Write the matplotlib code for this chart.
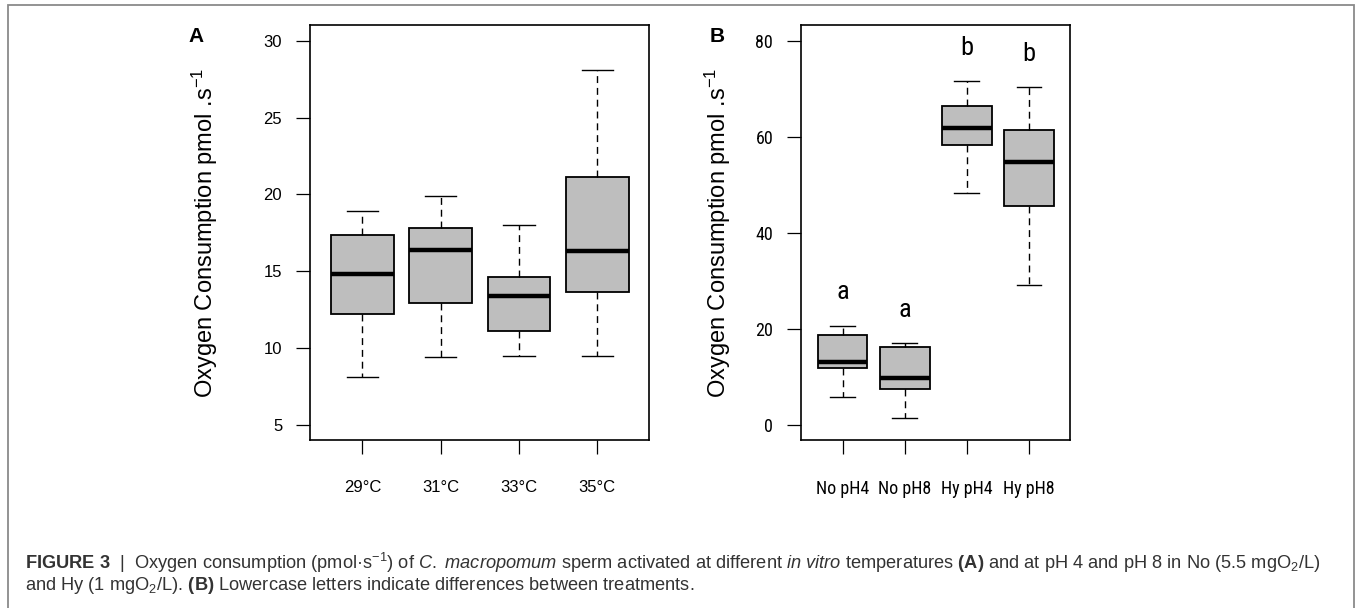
import matplotlib
matplotlib.use("Agg")
import matplotlib.pyplot as plt
from matplotlib.patches import Rectangle

plt.rcParams['font.family'] = ['Liberation Sans', 'DejaVu Sans']
plt.rcParams['mathtext.fontset'] = 'custom'
plt.rcParams['mathtext.rm'] = 'Liberation Sans'
plt.rcParams['mathtext.it'] = 'Liberation Sans:italic'
plt.rcParams['mathtext.bf'] = 'Liberation Sans:bold'

# panel A - temperatures
temp_labels = ['29°C', '31°C', '33°C', '35°C']
temp_whislo = [8.14, 9.42, 9.47, 9.5]
temp_q1 = [12.22, 12.95, 11.11, 13.63]
temp_med = [14.8, 16.38, 13.37, 16.3]
temp_q3 = [17.36, 17.8, 14.6, 21.13]
temp_whishi = [18.9, 19.9, 17.99, 28.07]

# panel B - oxygen / pH
ph_labels = ['No pH4', 'No pH8', 'Hy pH4', 'Hy pH8']
ph_whislo = [5.9, 1.5, 48.4, 29.1]
ph_q1 = [11.8, 7.6, 58.3, 45.6]
ph_med = [13.2, 9.7, 61.8, 54.7]
ph_q3 = [18.7, 16.2, 66.5, 61.4]
ph_whishi = [20.55, 17.0, 71.6, 70.4]
ph_letters = ['a', 'a', 'b', 'b']
ph_letter_y = [27.7, 23.9, 78.4, 77.2]

ylab = r'Oxygen Consumption pmol .s$^{-1}$'
narrow = ['Roboto Condensed', 'PT Sans Narrow', 'Liberation Sans', 'DejaVu Sans']


def make_stats(lo, q1, med, q3, hi):
    return [dict(whislo=a, q1=b, med=c, q3=d, whishi=e, fliers=[])
            for a, b, c, d, e in zip(lo, q1, med, q3, hi)]


def draw_box(ax, stats):
    ax.bxp(stats, positions=range(1, len(stats) + 1), widths=0.8, capwidths=0.4,
           patch_artist=True, showfliers=False,
           boxprops=dict(facecolor='#bebebe', edgecolor='black', linewidth=1.3),
           medianprops=dict(color='black', linewidth=3.2, solid_capstyle='butt'),
           whiskerprops=dict(color='black', linewidth=1.0, linestyle=(0, (5, 3.5))),
           capprops=dict(color='black', linewidth=1.0))
    ax.set_xlim(0.33, 4.66)
    for s in ax.spines.values():
        s.set_linewidth(1.2)
    ax.tick_params(axis='both', direction='out', length=10, width=0.9)
    ax.tick_params(axis='x', pad=19)
    ax.tick_params(axis='y', pad=10)


fig = plt.figure(figsize=(13.56, 6.08), dpi=100)

axA = fig.add_axes([310 / 1356, 1 - 440 / 608, 339 / 1356, 415 / 608])
draw_box(axA, make_stats(temp_whislo, temp_q1, temp_med, temp_q3, temp_whishi))
axA.set_ylim(4.02, 31.02)
axA.set_yticks([5, 10, 15, 20, 25, 30])
axA.set_xticks(range(1, 5))
axA.set_xticklabels(temp_labels, fontsize=12)
for t in axA.get_yticklabels():
    t.set_fontsize(12)
axA.text(-0.31, 0.5, ylab, transform=axA.transAxes, rotation=90,
         ha='center', va='center', fontsize=17)
fig.text(196 / 1356, 1 - 36 / 608, 'A', fontsize=15, fontweight='bold',
         ha='center', va='center')

axB = fig.add_axes([801 / 1356, 1 - 440 / 608, 269 / 1356, 415 / 608])
draw_box(axB, make_stats(ph_whislo, ph_q1, ph_med, ph_q3, ph_whishi))
axB.set_ylim(-3.12, 83.27)
axB.set_yticks([0, 20, 40, 60, 80])
axB.set_xticks(range(1, 5))
axB.set_xticklabels(ph_labels, fontsize=13, family=narrow)
for t in axB.get_yticklabels():
    t.set_fontsize(13)
    t.set_family(narrow)
for i, (lt, ly) in enumerate(zip(ph_letters, ph_letter_y)):
    axB.text(i + 1, ly, lt, ha='center', va='center', fontsize=19, family=narrow)
axB.text(-0.31, 0.5, ylab, transform=axB.transAxes, rotation=90,
         ha='center', va='center', fontsize=17)
fig.text(717 / 1356, 1 - 36 / 608, 'B', fontsize=15, fontweight='bold',
         ha='center', va='center')

# outer frame
fig.patches.append(Rectangle((8 / 1356, -0.02), 1346 / 1356, 1.02 - 5 / 608,
                             transform=fig.transFigure, fill=False,
                             edgecolor='#8a8a8a', linewidth=1.3))

cap1 = (r"$\mathbf{FIGURE\ 3}$  |  Oxygen consumption (pmol·s$^{-1}$) of "
        r"$\mathit{C.}$ $\mathit{macropomum}$ sperm activated at different $\mathit{in\ vitro}$ "
        r"temperatures $\mathbf{(A)}$ and at pH 4 and pH 8 in No (5.5 mgO$_2$/L)")
cap2 = (r"and Hy (1 mgO$_2$/L). $\mathbf{(B)}$ Lowercase letters indicate "
        r"differences between treatments.")
fig.text(25 / 1356, 1 - 563 / 608, cap1, fontsize=13.15, color='#333333',
         ha='left', va='center')
fig.text(25 / 1356, 1 - 586 / 608, cap2, fontsize=13.15, color='#333333',
         ha='left', va='center')

fig.savefig('out.png', dpi=100)
